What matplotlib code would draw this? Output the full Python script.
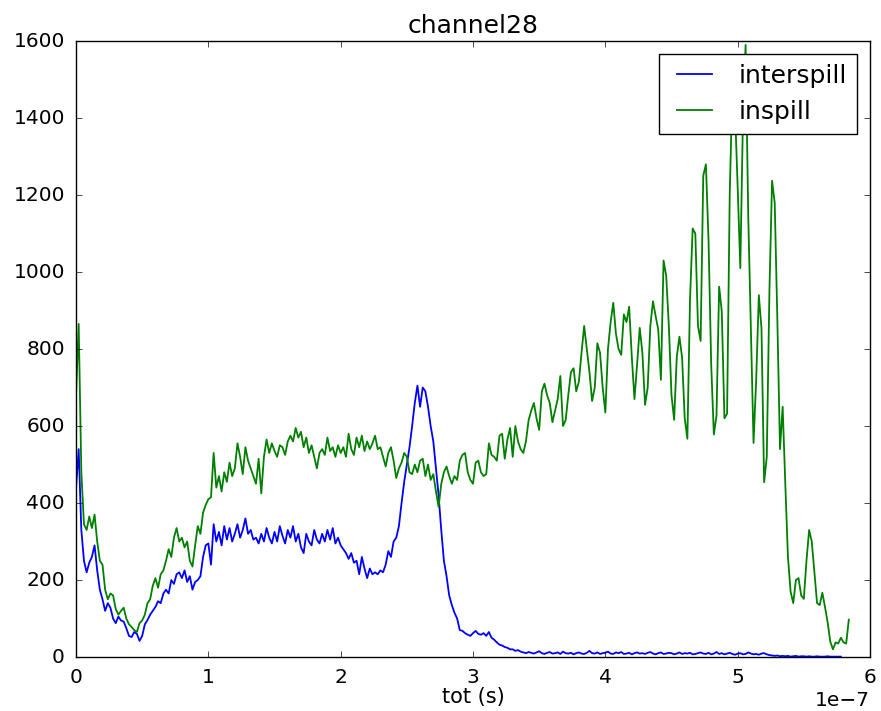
import numpy as np
import matplotlib
matplotlib.use("Agg")
import matplotlib.pyplot as plt

# bin width of the tot histogram, in units of 1e-7 s
step = 0.02

inspill = [
    680, 865, 480, 345, 330, 365, 335, 370, 300, 250,
    240, 175, 150, 165, 160, 125, 110, 120, 128, 100,
    85, 78, 70, 65, 88, 95, 110, 140, 150, 185,
    205, 180, 215, 225, 250, 280, 260, 310, 335, 300,
    310, 285, 300, 250, 235, 290, 340, 320, 375, 395,
    410, 415, 530, 440, 470, 430, 480, 455, 505, 470,
    490, 555, 520, 475, 545, 510, 490, 470, 450, 515,
    425, 520, 565, 530, 555, 535, 520, 550, 545, 525,
    560, 575, 560, 595, 570, 585, 545, 570, 530, 550,
    520, 490, 530, 540, 525, 570, 535, 545, 520, 550,
    530, 545, 520, 580, 540, 525, 570, 545, 575, 535,
    560, 540, 555, 575, 540, 545, 520, 495, 530, 545,
    510, 465, 490, 505, 530, 520, 480, 475, 500, 480,
    510, 515, 470, 500, 460, 475, 430, 390, 450, 480,
    495, 470, 450, 470, 460, 510, 525, 530, 480, 460,
    450, 505, 510, 480, 470, 475, 555, 525, 520, 510,
    575, 580, 515, 565, 595, 520, 600, 560, 540, 530,
    560, 615, 640, 660, 620, 590, 690, 710, 680, 660,
    610, 640, 670, 730, 600, 615, 680, 740, 750, 690,
    715, 790, 860, 800, 740, 665, 700, 815, 790, 700,
    635, 800, 870, 920, 840, 800, 785, 890, 870, 910,
    780, 670, 760, 855, 790, 655, 700, 860, 924, 886,
    850, 720, 1030, 990, 860, 680, 616, 780, 832, 778,
    620, 567, 930, 1113, 1100, 860, 821, 1250, 1280, 1080,
    760, 578, 627, 962, 897, 620, 632, 1200, 1480, 1420,
    1221, 1010, 1400, 1590, 1145, 854, 556, 720, 940, 854,
    454, 520, 950, 1237, 1180, 875, 540, 650, 450, 260,
    170, 140, 200, 205, 160, 151, 250, 330, 300, 220,
    140, 135, 167, 130, 90, 40, 20, 38, 35, 50,
    38, 35, 97,
]

interspill = [
    440, 540, 330, 250, 220, 245, 260, 290, 225, 175,
    150, 120, 140, 128, 100, 88, 105, 95, 92, 75,
    55, 52, 65, 60, 42, 55, 85, 96, 110, 120,
    130, 145, 140, 165, 175, 165, 200, 190, 215, 220,
    205, 225, 195, 210, 175, 195, 200, 210, 260, 290,
    295, 240, 345, 300, 325, 290, 340, 305, 335, 300,
    320, 345, 310, 330, 360, 320, 330, 305, 310, 295,
    320, 300, 335, 310, 295, 325, 300, 340, 315, 295,
    330, 310, 340, 300, 320, 285, 270, 320, 300, 290,
    330, 305, 295, 320, 300, 330, 305, 335, 295, 310,
    290, 280, 270, 255, 270, 245, 250, 215, 260, 230,
    205, 230, 215, 220, 215, 225, 220, 240, 275, 260,
    300, 310, 340, 400, 455, 500, 545, 600, 660, 705,
    650, 700, 690, 650, 600, 560, 490, 420, 330, 250,
    210, 160, 135, 115, 100, 70, 68, 62, 58, 55,
    62, 68, 60, 58, 62, 55, 65, 50, 45, 38,
    32, 30, 26, 24, 20, 20, 16, 18, 14, 12,
    10, 13, 11, 9, 12, 15, 10, 8, 11, 13,
    9, 10, 12, 8, 14, 10, 9, 11, 7, 10,
    12, 9, 8, 11, 16, 10, 9, 12, 8, 10,
    11, 14, 9, 8, 12, 10, 13, 8, 9, 11,
    7, 10, 12, 9, 10, 8, 11, 13, 9, 7,
    10, 12, 8, 9, 11, 10, 7, 9, 12, 8,
    10, 9, 11, 7, 8, 10, 12, 9, 8, 11,
    7, 9, 13, 8, 10, 7, 9, 11, 8, 6,
    9, 10, 7, 8, 12, 9, 7, 8, 6, 9,
    10, 7, 5, 4, 3, 4, 2, 3, 2, 3,
    1, 2, 3, 1, 2, 2, 1, 2, 1, 1,
    2, 1, 1, 1, 2, 1, 1, 1, 1, 1,
]

t_in = np.arange(len(inspill)) * step * 1e-7
t_inter = np.arange(len(interspill)) * step * 1e-7

plt.style.use("classic")
plt.rcParams["font.family"] = ["DejaVu Sans"]
plt.rcParams["font.size"] = 14.5

fig = plt.figure(figsize=(8.81, 7.11), dpi=100, facecolor="white")
ax = fig.add_axes([0.0863, 0.0759, 0.9012, 0.8664])

ax.plot(t_inter, interspill, color="b", lw=1.3, label="interspill")
ax.plot(t_in, inspill, color="g", lw=1.3, label="inspill")

ax.set_xlim(0, 6e-7)
ax.set_ylim(0, 1600)
ax.set_xticks(np.arange(0, 7) * 1e-7)
ax.set_yticks(np.arange(0, 1601, 200))
ax.tick_params(labelsize=14.5, pad=8)
ax.xaxis.get_offset_text().set_fontsize(14.5)
ax.set_title("channel28", fontsize=18, pad=6)
ax.set_xlabel("tot (s)", fontsize=15, labelpad=0)
ax.legend(loc="upper right", fontsize=18)

fig.savefig("out.png", dpi=100, facecolor="white")
